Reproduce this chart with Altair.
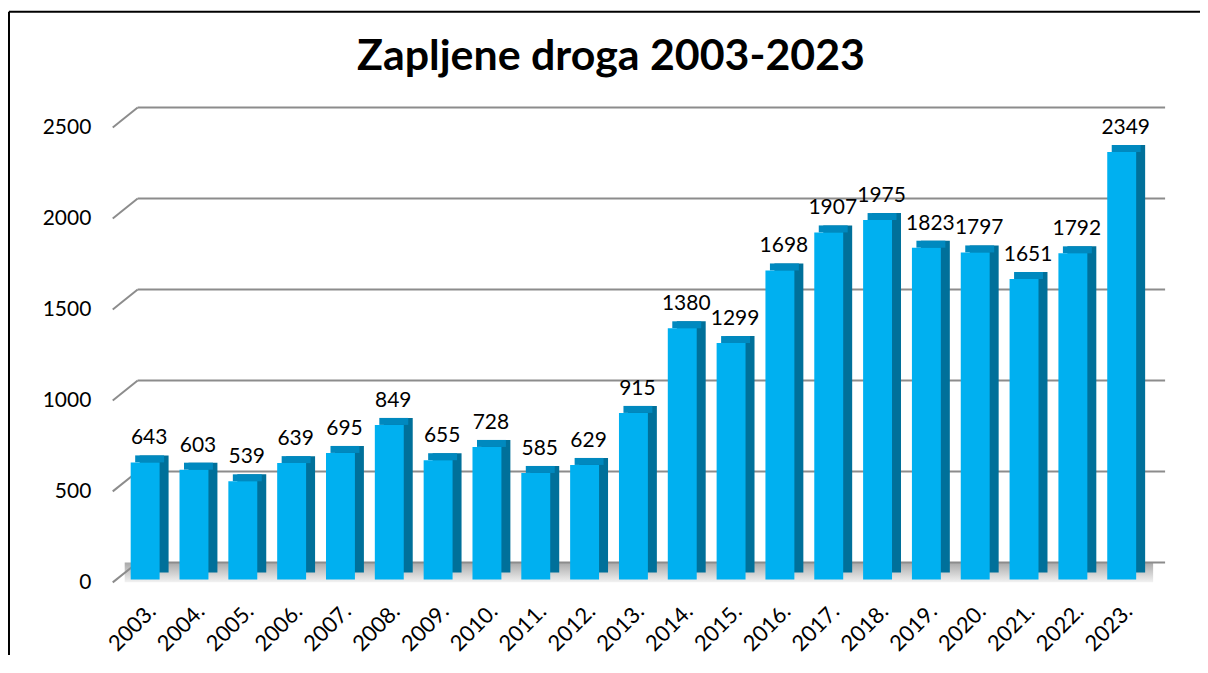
import altair as alt
import pandas as pd

years = ["2003.", "2004.", "2005.", "2006.", "2007.", "2008.", "2009.", "2010.", "2011.", "2012.",
         "2013.", "2014.", "2015.", "2016.", "2017.", "2018.", "2019.", "2020.", "2021.", "2022.", "2023."]
values = [643, 603, 539, 639, 695, 849, 655, 728, 585, 629,
          915, 1380, 1299, 1698, 1907, 1975, 1823, 1797, 1651, 1792, 2349]
ticks = [0, 500, 1000, 1500, 2000, 2500]

W, H = 1055, 456
FONT = "Lato"

df = pd.DataFrame({"year": years, "value": values})
grid = pd.DataFrame({"tick": ticks})

xscale = alt.Scale(paddingInner=0.4076, paddingOuter=0.48, align=0.383)
yscale = alt.Scale(domain=[0, 2500], nice=False)

xaxis = alt.Axis(labelAngle=-45, labelFontSize=22, labelFont=FONT, labelColor="#000",
                 domain=False, ticks=False, labelPadding=21, grid=False, title=None)
yaxis = alt.Axis(values=ticks, format="d", labelFontSize=21, labelFont=FONT, labelColor="#000",
                 domain=False, ticks=False, grid=False, labelPadding=22, labelOffset=3, title=None)

X = alt.X("year:N", sort=years, scale=xscale, axis=xaxis, title=None)
Y = alt.Y("value:Q", scale=yscale, axis=yaxis, title=None)
YT = alt.Y("tick:Q", scale=yscale, axis=yaxis, title=None)

# floor shadow
floor = alt.Chart(grid).transform_filter("datum.tick == 0").mark_rect(
    yOffset=-17, y2Offset=3,
    color=alt.Gradient(gradient="linear",
                       stops=[alt.GradientStop(color="#a8a8a8", offset=0),
                              alt.GradientStop(color="#f2f2f2", offset=1)],
                       x1=0, x2=0, y1=0, y2=1)
).encode(x=alt.value(12), x2=alt.value(1043), y=YT, y2="tick:Q")

back = alt.Chart(grid).mark_rule(color="#8c8c8c", strokeWidth=2, yOffset=-17).encode(
    x=alt.value(25), x2=alt.value(W), y=YT)
diag = alt.Chart(grid).mark_rule(color="#8c8c8c", strokeWidth=2, yOffset=3, y2Offset=-17).encode(
    x=alt.value(0), x2=alt.value(25), y=YT, y2="tick:Q")

side = alt.Chart(df).mark_bar(color="#00709A", xOffset=9, yOffset=-7, y2Offset=-7).encode(
    x=X, y=Y, y2=alt.datum(0))
top = alt.Chart(df).mark_bar(color="#0089BF", xOffset=4.5, yOffset=-7, y2Offset=0).encode(
    x=X, y=Y, y2="value:Q")
front = alt.Chart(df).mark_bar(color="#00B0F0").encode(x=X, y=Y, y2=alt.datum(0))
labels = alt.Chart(df).mark_text(font=FONT, fontSize=21, color="#000", baseline="alphabetic",
                                 dy=-18, xOffset=4).encode(x=X, y=Y, text="value:Q")

frame_l = alt.Chart(grid).transform_filter("datum.tick == 0").mark_rule(color="#000", strokeWidth=2).encode(
    x=alt.value(-104), y=alt.value(-113), y2=alt.value(H + 90))
frame_t = alt.Chart(grid).transform_filter("datum.tick == 0").mark_rule(color="#000", strokeWidth=2).encode(
    x=alt.value(-104), x2=alt.value(W + 40), y=alt.value(-113))

chart = alt.layer(floor, back, diag, side, top, front, labels, frame_l, frame_t).properties(
    width=W, height=H,
    autosize=alt.AutoSizeParams(type="none"),
    padding={"left": 105, "top": 116, "right": 35, "bottom": 75},
    view=alt.ViewBackground(stroke="transparent", strokeWidth=0, strokeOpacity=0),
    title=alt.TitleParams("Zapljene droga 2003-2023", font=FONT, fontSize=43, fontWeight="bold",
                          color="#000", anchor="middle", frame="group", dx=-28, offset=-102,
                          baseline="alphabetic", limit=0)
).configure_view(strokeWidth=0, stroke="transparent").configure_axis(
    domain=False, grid=False, ticks=False
).configure(background="white")

chart.save("out.html", embed_options={"renderer": "svg", "actions": False})
